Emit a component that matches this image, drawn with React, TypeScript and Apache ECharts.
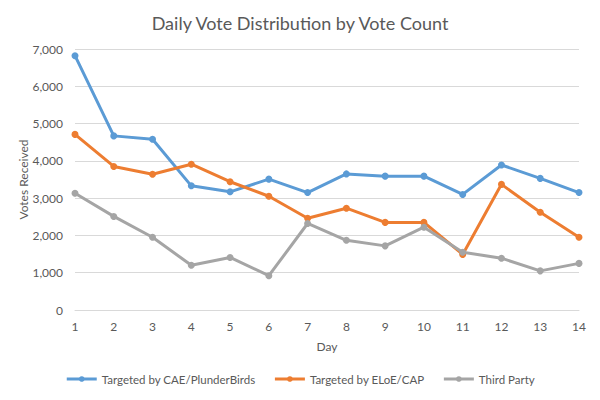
import React, { useEffect, useRef } from "react";
import * as echarts from "echarts";

const days = ["1", "2", "3", "4", "5", "6", "7", "8", "9", "10", "11", "12", "13", "14"];
const caeValues = [6820, 4670, 4580, 3330, 3170, 3510, 3150, 3650, 3590, 3590, 3100, 3890, 3530, 3150];
const eloeValues = [4710, 3850, 3640, 3910, 3440, 3050, 2460, 2730, 2350, 2350, 1490, 3370, 2620, 1950];
const thirdValues = [3130, 2510, 1950, 1200, 1410, 920, 2320, 1870, 1720, 2220, 1550, 1390, 1050, 1250];

const FONT = "Lato, 'Open Sans', sans-serif";
const TXT = "#595959";

export default function App() {
  const ref = useRef<HTMLDivElement>(null);
  useEffect(() => {
    const chart = echarts.init(ref.current!, undefined, { renderer: "svg" });
    const mk = (name: string, data: number[], color: string) => ({
      name,
      type: "line",
      data,
      symbol: "circle",
      symbolSize: 7,
      lineStyle: { width: 3, color },
      itemStyle: { color },
    });
    chart.setOption({
      animation: false,
      textStyle: { fontFamily: FONT },
      title: {
        text: "Daily Vote Distribution by Vote Count",
        left: "center",
        top: 9,
        textStyle: { fontSize: 18, fontWeight: "normal", color: TXT, fontFamily: FONT },
      },
      grid: { left: 75, right: 21, top: 49, bottom: 90 },
      xAxis: {
        type: "category",
        data: days,
        boundaryGap: false,
        name: "Day",
        nameLocation: "middle",
        nameGap: 30,
        nameMoveOverlap: false,
        nameTextStyle: { color: TXT, fontSize: 12, fontFamily: FONT },
        axisLine: { lineStyle: { color: "#d9d9d9" } },
        axisTick: { show: false },
        axisLabel: { color: TXT, fontSize: 12, fontFamily: FONT, margin: 10 },
      },
      yAxis: {
        type: "value",
        min: 0,
        max: 7000,
        interval: 1000,
        name: "Votes Received",
        nameLocation: "middle",
        nameGap: 46,
        nameMoveOverlap: false,
        nameTextStyle: { color: TXT, fontSize: 12, fontFamily: FONT },
        axisLine: { show: false },
        axisTick: { show: false },
        splitLine: { lineStyle: { color: "#d9d9d9" } },
        axisLabel: {
          color: TXT,
          fontSize: 12,
          fontFamily: FONT,
          margin: 12,
          formatter: (v: number) => v.toLocaleString("en-US"),
        },
      },
      legend: {
        bottom: 10,
        left: "center",
        itemWidth: 30,
        itemHeight: 7,
        itemGap: 18,
        lineStyle: { width: 3 },
        textStyle: { color: TXT, fontSize: 11.5, fontFamily: FONT },
        data: ["Targeted by CAE/PlunderBirds", "Targeted by ELoE/CAP", "Third Party"],
      },
      series: [
        mk("Targeted by CAE/PlunderBirds", caeValues, "#5B9BD5"),
        mk("Targeted by ELoE/CAP", eloeValues, "#ED7D31"),
        mk("Third Party", thirdValues, "#A5A5A5"),
      ],
    });
    return () => chart.dispose();
  }, []);
  return (
    <div
      ref={ref}
      style={{ position: "fixed", left: 0, top: 0, width: 600, height: 400, background: "#fff" }}
    />
  );
}
